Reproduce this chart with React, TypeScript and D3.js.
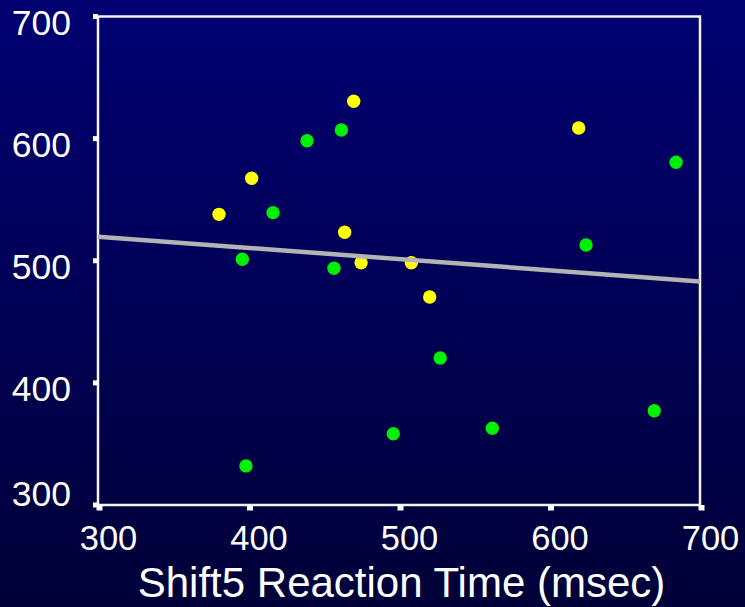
import React from "react";
import * as d3 from "d3";

const yellowX = [469.9, 402.1, 380.4, 463.9, 474.8, 508.2, 520.4, 619.4];
const yellowY = [630.6, 567.5, 538.0, 523.3, 498.4, 498.4, 470.3, 608.7];
const greenX = [461.7, 438.9, 416.3, 395.9, 456.8, 684.1, 624.3, 527.4, 496.2, 562.0, 669.6, 398.3];
const greenY = [607.1, 598.3, 539.4, 501.2, 493.8, 580.6, 512.9, 420.4, 358.4, 362.8, 377.2, 332.0];
const trendX = [300, 700];
const trendY = [519.7, 483.0];
const xTicks = [300, 400, 500, 600, 700];
const yTicks = [300, 400, 500, 600, 700];
const xTitle = "Shift5 Reaction Time (msec)";

const W = 745;
const H = 607;
const left = 98;
const right = 700;
const top = 16.5;
const bottom = 505;

export default function App() {
  const x = d3.scaleLinear().domain([300, 700]).range([left, right]);
  const y = d3.scaleLinear().domain([300, 700]).range([bottom, top]);
  const line = d3
    .line<number>()
    .x((_, i) => x(trendX[i]))
    .y((d) => y(d));
  const font = "'Liberation Sans', Arial, sans-serif";
  return (
    <svg
      width={W}
      height={H}
      style={{ position: "absolute", left: 0, top: 0, display: "block" }}
    >
      <defs>
        <linearGradient id="bg" x1="0" y1="0" x2="0" y2="1">
          <stop offset="0%" stopColor="#000072" />
          <stop offset="100%" stopColor="#000038" />
        </linearGradient>
      </defs>
      <rect x={0} y={0} width={W} height={H} fill="url(#bg)" />
      {/* frame */}
      <rect
        x={left}
        y={top}
        width={right - left}
        height={bottom - top}
        fill="none"
        stroke="#f4f4f4"
        strokeWidth={2.5}
      />
      {/* y ticks */}
      {yTicks.map((t) => (
        <g key={"yt" + t}>
          <line x1={left - 5} x2={left} y1={y(t)} y2={y(t)} stroke="#fff" strokeWidth={5} />
          <text
            x={71}
            y={t === 300 ? y(t) + 1 : y(t) + 18.5}
            textAnchor="end"
            fill="#fff"
            fontFamily={font}
            fontSize={35.5}
          >
            {t}
          </text>
        </g>
      ))}
      {/* x ticks */}
      {xTicks.map((t) => (
        <g key={"xt" + t}>
          <line x1={x(t) + 1.5} x2={x(t) + 1.5} y1={bottom} y2={bottom + 5.5} stroke="#fff" strokeWidth={6} />
          <text
            x={x(t) + 10.5}
            y={550}
            textAnchor="middle"
            fill="#fff"
            fontFamily={font}
            fontSize={34.5}
          >
            {t}
          </text>
        </g>
      ))}
      {/* points */}
      {greenX.map((v, i) => (
        <circle key={"g" + i} cx={x(v)} cy={y(greenY[i])} r={6.7} fill="#00f000" />
      ))}
      {yellowX.map((v, i) => (
        <circle key={"y" + i} cx={x(v)} cy={y(yellowY[i])} r={6.7} fill="#ffff00" />
      ))}
      {/* trend line */}
      <path d={line(trendY) || ""} fill="none" stroke="#b4b4b4" strokeWidth={4.5} />
      <text
        x={401.5}
        y={596.5}
        textAnchor="middle"
        fill="#fff"
        fontFamily={font}
        fontSize={42}
      >
        {xTitle}
      </text>
    </svg>
  );
}
